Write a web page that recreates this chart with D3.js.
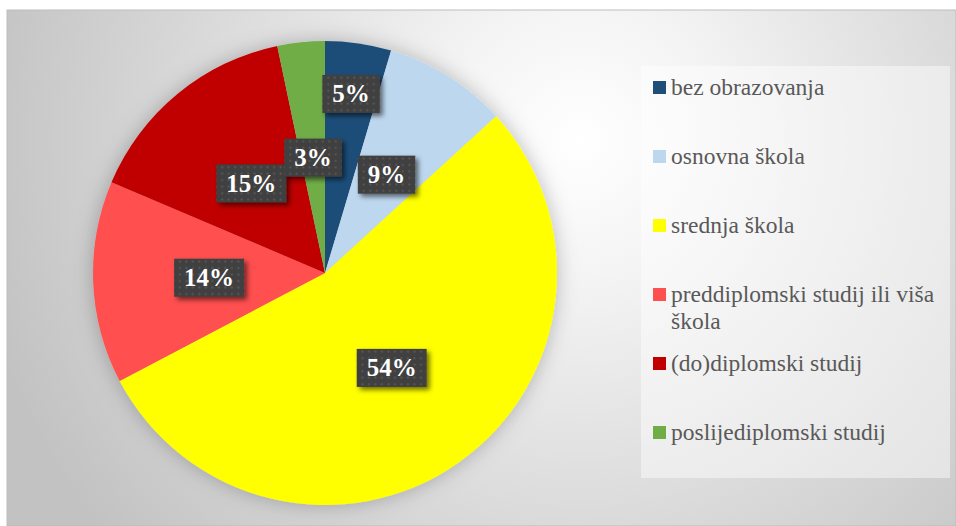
<!DOCTYPE html>
<html>
<head>
<meta charset="utf-8">
<script src="https://cdn.jsdelivr.net/npm/d3@7"></script>
<style>
  body { margin: 0; background: #fff; }
  svg { display: block; }
</style>
</head>
<body>
<svg width="956" height="526"></svg>
<script>
// education level shares (%)
const categories = [
  'bez obrazovanja',
  'osnovna škola',
  'srednja škola',
  'preddiplomski studij ili viša škola',
  '(do)diplomski studij',
  'poslijediplomski studij'
];
const shares = [4.6, 8.6, 54.1, 14.1, 15.3, 3.3];
const colors = ['#1F4E79', '#BDD7EE', '#FFFF00', '#FF5050', '#C00000', '#70AD47'];

const data = categories.map((c, i) => ({ name: c, value: shares[i], color: colors[i] }));

const serif = '"Liberation Serif", "Times New Roman", serif';

const svg = d3.select('svg');
const width = +svg.attr('width');
const height = +svg.attr('height');

const defs = svg.append('defs');

// chart area background
const bg = defs.append('radialGradient')
  .attr('id', 'bg')
  .attr('gradientUnits', 'userSpaceOnUse')
  .attr('cx', 580).attr('cy', 140).attr('r', 620);
bg.append('stop').attr('offset', '0%').attr('stop-color', '#ffffff');
bg.append('stop').attr('offset', '22%').attr('stop-color', '#f4f4f4');
bg.append('stop').attr('offset', '65%').attr('stop-color', '#d8d8d8');
bg.append('stop').attr('offset', '100%').attr('stop-color', '#c2c2c2');

// dotted texture for the data labels
const pat = defs.append('pattern')
  .attr('id', 'dots')
  .attr('patternUnits', 'userSpaceOnUse')
  .attr('width', 6.5).attr('height', 6.5);
pat.append('rect').attr('width', 6.5).attr('height', 6.5).attr('fill', '#3f3f3f');
pat.append('circle').attr('cx', 3.25).attr('cy', 3.25).attr('r', 1.1).attr('fill', '#585858');

const pieShadow = defs.append('filter').attr('id', 'pieShadow')
  .attr('x', '-20%').attr('y', '-20%').attr('width', '140%').attr('height', '140%');
pieShadow.append('feDropShadow')
  .attr('dx', 0).attr('dy', 0).attr('stdDeviation', 10)
  .attr('flood-color', '#000').attr('flood-opacity', 0.25);

const boxShadow = defs.append('filter').attr('id', 'boxShadow')
  .attr('x', '-30%').attr('y', '-30%').attr('width', '160%').attr('height', '160%');
boxShadow.append('feDropShadow')
  .attr('dx', 3).attr('dy', 3).attr('stdDeviation', 2.5)
  .attr('flood-color', '#000').attr('flood-opacity', 0.55);

svg.append('rect')
  .attr('x', 7).attr('y', 10)
  .attr('width', width - 7).attr('height', height - 10)
  .attr('fill', 'url(#bg)')
  .attr('stroke', '#bdbdbd')
  .attr('stroke-width', 1);

// pie
const cx = 325, cy = 273, radius = 232;

const pie = d3.pie()
  .value(d => d.value)
  .sort(null);

const arc = d3.arc()
  .innerRadius(0)
  .outerRadius(radius);

const arcs = pie(data);

const g = svg.append('g')
  .attr('transform', `translate(${cx},${cy})`);

g.append('g')
  .attr('filter', 'url(#pieShadow)')
  .selectAll('path')
  .data(arcs)
  .join('path')
    .attr('d', arc)
    .attr('fill', d => d.data.color);

// labels: inside at half radius, the small first slice pushed outward (best fit)
const labelArc = i => d3.arc()
  .innerRadius(radius * (i === 0 ? 0.78 : 0.5))
  .outerRadius(radius * (i === 0 ? 0.78 : 0.5));

const fmt = v => Math.round(v) + '%';

const labels = g.append('g')
  .selectAll('g')
  .data(arcs)
  .join('g')
    .attr('transform', (d, i) => `translate(${labelArc(i).centroid(d)})`);

labels.append('text')
  .attr('text-anchor', 'middle')
  .attr('dy', '0.34em')
  .style('font-family', serif)
  .style('font-size', '25px')
  .style('font-weight', 'bold')
  .attr('fill', '#fff')
  .text(d => fmt(d.data.value));

labels.each(function () {
  const grp = d3.select(this);
  const w = grp.select('text').node().getComputedTextLength();
  grp.insert('rect', 'text')
    .attr('x', -w / 2 - 10)
    .attr('y', -19)
    .attr('width', w + 20)
    .attr('height', 38)
    .attr('fill', 'url(#dots)')
    .attr('filter', 'url(#boxShadow)');
});

// legend
const legendBox = { x: 641, y: 66, w: 309, h: 412 };
svg.append('rect')
  .attr('x', legendBox.x).attr('y', legendBox.y)
  .attr('width', legendBox.w).attr('height', legendBox.h)
  .attr('fill', '#ffffff')
  .attr('fill-opacity', 0.45);

const legendY = d3.scaleLinear()
  .domain([0, categories.length - 1])
  .range([95, 440]);

const legend = svg.append('g')
  .selectAll('g')
  .data(data)
  .join('g')
    .attr('transform', (d, i) => `translate(653,${legendY(i)})`);

legend.append('rect')
  .attr('x', 0).attr('y', -14)
  .attr('width', 13).attr('height', 13)
  .attr('fill', d => d.color);

legend.append('text')
  .attr('x', 18)
  .style('font-family', serif)
  .style('font-size', '23.5px')
  .attr('fill', '#595959')
  .each(function (d) {
    // wrap long entries onto a second line
    const t = d3.select(this);
    const words = d.name.split(' ');
    let line = [];
    let tspan = t.append('tspan').attr('x', 18).attr('dy', 0);
    words.forEach(w => {
      line.push(w);
      tspan.text(line.join(' '));
      if (tspan.node().getComputedTextLength() > 272 && line.length > 1) {
        line.pop();
        tspan.text(line.join(' '));
        line = [w];
        tspan = t.append('tspan').attr('x', 18).attr('dy', 27).text(w);
      }
    });
  });
</script>
</body>
</html>
